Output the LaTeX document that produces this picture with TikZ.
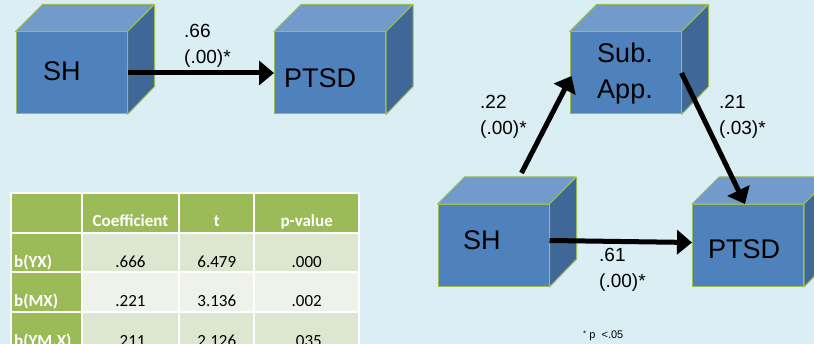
\documentclass[tikz,border=0pt]{standalone}
\usepackage{fontspec}
\setmainfont{Liberation Sans}
\newfontfamily\tablefont{Carlito}
\usetikzlibrary{calc,arrows.meta}
\definecolor{bgc}{HTML}{DBEEF4}
\definecolor{frontc}{HTML}{4F81BD}
\definecolor{topc}{HTML}{729ACA}
\definecolor{sidec}{HTML}{3F6797}
\definecolor{edgec}{HTML}{9BBB59}
\definecolor{hdrc}{HTML}{9BBB59}
\definecolor{banda}{HTML}{DDE6D0}
\definecolor{bandb}{HTML}{EFF2E9}
\tikzset{
  cube/.style={rectangle, fill=frontc, draw=edgec, line width=1pt, minimum width=111pt, minimum height=82pt, inner sep=0pt},
  topface/.style={fill=topc, draw=edgec, line width=1pt, line join=round},
  sideface/.style={fill=sidec, draw=edgec, line width=1pt, line join=round},
  boxtext/.style={inner sep=0pt, font=\fontsize{27}{36}\selectfont, text=black},
  coef/.style={inner sep=0pt, anchor=north west, align=left, font=\fontsize{19}{26}\selectfont},
  path arrow/.style={line width=5pt, -{Triangle[length=15pt,width=24pt]}},
  cell/.style={draw=white, line width=2pt},
  hdr/.style={inner sep=0pt, anchor=base, font=\tablefont\fontsize{17}{20}\selectfont\bfseries, text=white},
  rowhdr/.style={inner sep=0pt, anchor=base west, font=\tablefont\fontsize{17}{20}\selectfont\bfseries, text=white},
  val/.style={inner sep=0pt, anchor=base, font=\tablefont\fontsize{17}{20}\selectfont, text=black},
}
\newcommand{\cubefaces}[1]{%
  \path[topface] (#1.north west) -- ++(27,-27) -- ++(111,0) -- (#1.north east) -- cycle;
  \path[sideface] (#1.north east) -- ++(27,-27) -- ++(0,82) -- (#1.south east) -- cycle;
}
\begin{document}
\begin{tikzpicture}[x=1pt,y=-1pt]
\fill[bgc] (0,0) rectangle (814,344);
\useasboundingbox (0,0) rectangle (814,344);

% cubes
\node[cube] (sh1) at (71.5,73) {};
\cubefaces{sh1}
\node[cube] (ptsd1) at (330,73) {};
\cubefaces{ptsd1}
\node[cube] (sub) at (625.5,73) {};
\cubefaces{sub}
\node[cube] (sh2) at (493.5,245.5) {};
\cubefaces{sh2}
\node[cube] (ptsd2) at (748,245.5) {};
\cubefaces{ptsd2}

% box labels
\node[boxtext, anchor=base west] (tsh1) at (43,81) {SH};
\node[boxtext, anchor=base west] (tptsd1) at (284,88) {PTSD};
\node[boxtext, anchor=north, align=center] (tsub) at (625,43) {Sub.\\App.};
\node[boxtext, anchor=base west] (tsh2) at (463,250) {SH};
\node[boxtext, anchor=base west] (tptsd2) at (708,259) {PTSD};

% arrows
\draw[path arrow] (sh1.east) -- (ptsd1.west);
\draw[path arrow] ($(sh2.north)+(28,-31)$) -- ($(sub.west)+(2,3)$);
\draw[path arrow] (sub.east) -- ($(ptsd2.north)+(-3,0)$);
\draw[path arrow] ($(sh2.east)+(0,-5)$) -- ($(ptsd2.west)+(0,-3)$);

% coefficient labels
\node[coef] (c1) at (184,24) {.66\\(.00)*};
\node[coef] (c2) at (480,95) {.22\\(.00)*};
\node[coef] (c3) at (719,95) {.21\\(.03)*};
\node[coef] (c4) at (599,248) {.61\\(.00)*};
\node[inner sep=0pt, anchor=base west, font=\fontsize{11}{13}\selectfont] (note) at (583,339) {\raisebox{2pt}{\fontsize{8}{9}\selectfont*} p\ \ {<}.05};

% table
\foreach \xa/\xb in {10.7/81.7, 81.7/179.3, 179.3/254.3, 254.3/359}
  \draw[cell, fill=hdrc] (\xa,193.3) rectangle (\xb,232.7);
\foreach \ya/\yb in {232.7/272.3, 272.3/312.3, 312.3/352}
  \draw[cell, fill=hdrc] (10.7,\ya) rectangle (81.7,\yb);
\foreach \ya/\yb/\c in {232.7/272.3/banda, 272.3/312.3/bandb, 312.3/352/banda}{
  \draw[cell, fill=\c] (81.7,\ya) rectangle (179.3,\yb);
  \draw[cell, fill=\c] (179.3,\ya) rectangle (254.3,\yb);
  \draw[cell, fill=\c] (254.3,\ya) rectangle (359,\yb);
}
\node[hdr] (hcoef) at (130.5,226.7) {Coefficient};
\node[hdr] (ht) at (216.8,226.7) {t};
\node[hdr] (hp) at (306.7,226.7) {p-value};
\node[rowhdr] (r1) at (14,267.3) {b(YX)};
\node[val] (r1a) at (130.5,267.3) {.666};
\node[val] (r1b) at (216.8,267.3) {6.479};
\node[val] (r1c) at (306.7,267.3) {.000};
\node[rowhdr] (r2) at (14,306.7) {b(MX)};
\node[val] (r2a) at (130.5,306.7) {.221};
\node[val] (r2b) at (216.8,306.7) {3.136};
\node[val] (r2c) at (306.7,306.7) {.002};
\node[rowhdr] (r3) at (14,346.3) {b(YM.X)};
\node[val] (r3a) at (130.5,346.3) {.211};
\node[val] (r3b) at (216.8,346.3) {2.126};
\node[val] (r3c) at (306.7,346.3) {.035};
\end{tikzpicture}
\end{document}
